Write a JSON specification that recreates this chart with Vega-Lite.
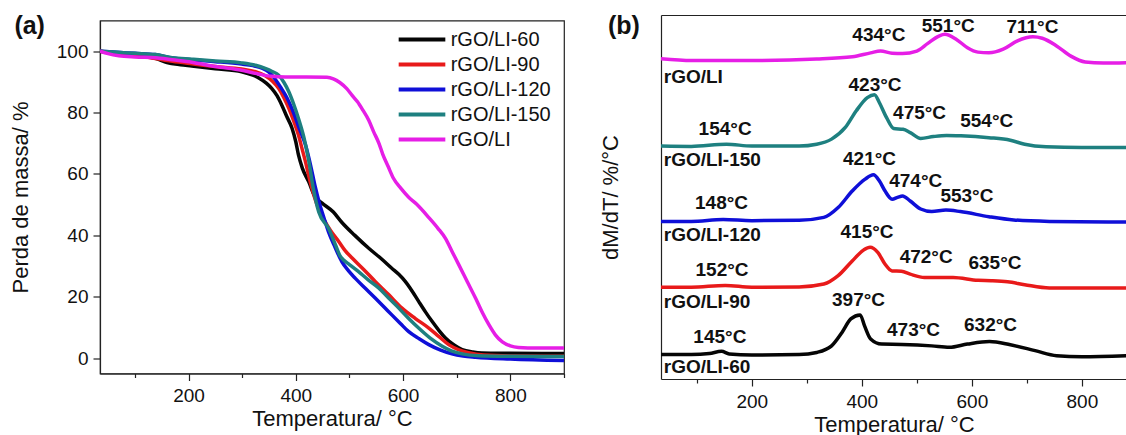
{
  "$schema": "https://vega.github.io/schema/vega-lite/v6.json",
  "background": "white",
  "padding": {"left": 8, "top": 13, "right": 0, "bottom": 0},
  "config": {
    "font": "Arial",
    "view": {"stroke": null},
    "axis": {
      "grid": false,
      "domainColor": "#222222",
      "domainWidth": 1.2,
      "tickColor": "#222222",
      "tickWidth": 1.2,
      "labelColor": "#111111",
      "titleColor": "#111111",
      "labelFont": "Arial",
      "titleFont": "Arial",
      "labelFontSize": 19,
      "titleFontSize": 22,
      "titleFontWeight": "normal"
    },
    "legend": {"labelFont": "Arial", "labelColor": "#111111"}
  },
  "datasets": {
    "tga": [
      {"s": "rGO/LI-60", "T": 35, "m": 100}, {"s": "rGO/LI-60", "T": 60, "m": 99.3}, {"s": "rGO/LI-60", "T": 90, "m": 98.8}, {"s": "rGO/LI-60", "T": 120, "m": 98.3},
      {"s": "rGO/LI-60", "T": 140, "m": 97.6}, {"s": "rGO/LI-60", "T": 160, "m": 96.3}, {"s": "rGO/LI-60", "T": 185, "m": 95.6}, {"s": "rGO/LI-60", "T": 206, "m": 95.2},
      {"s": "rGO/LI-60", "T": 250, "m": 94.3}, {"s": "rGO/LI-60", "T": 299, "m": 93.3}, {"s": "rGO/LI-60", "T": 320, "m": 92.2}, {"s": "rGO/LI-60", "T": 331, "m": 91.3},
      {"s": "rGO/LI-60", "T": 345, "m": 89.6}, {"s": "rGO/LI-60", "T": 355, "m": 87.9}, {"s": "rGO/LI-60", "T": 365, "m": 85.5}, {"s": "rGO/LI-60", "T": 374, "m": 82.4},
      {"s": "rGO/LI-60", "T": 383, "m": 78.8}, {"s": "rGO/LI-60", "T": 393, "m": 74.9}, {"s": "rGO/LI-60", "T": 400, "m": 70.5}, {"s": "rGO/LI-60", "T": 405, "m": 66.2},
      {"s": "rGO/LI-60", "T": 412, "m": 62}, {"s": "rGO/LI-60", "T": 424, "m": 57.5}, {"s": "rGO/LI-60", "T": 436, "m": 52.5}, {"s": "rGO/LI-60", "T": 449, "m": 50.5},
      {"s": "rGO/LI-60", "T": 470, "m": 47.6}, {"s": "rGO/LI-60", "T": 486, "m": 44.2}, {"s": "rGO/LI-60", "T": 510, "m": 40}, {"s": "rGO/LI-60", "T": 536, "m": 35.8},
      {"s": "rGO/LI-60", "T": 560, "m": 32.3}, {"s": "rGO/LI-60", "T": 579, "m": 29.3}, {"s": "rGO/LI-60", "T": 592, "m": 27.3}, {"s": "rGO/LI-60", "T": 604, "m": 25},
      {"s": "rGO/LI-60", "T": 617, "m": 21.8}, {"s": "rGO/LI-60", "T": 629, "m": 18.5}, {"s": "rGO/LI-60", "T": 642, "m": 15}, {"s": "rGO/LI-60", "T": 654, "m": 12},
      {"s": "rGO/LI-60", "T": 667, "m": 9}, {"s": "rGO/LI-60", "T": 679, "m": 6.6}, {"s": "rGO/LI-60", "T": 695, "m": 4.3}, {"s": "rGO/LI-60", "T": 710, "m": 2.8},
      {"s": "rGO/LI-60", "T": 730, "m": 2}, {"s": "rGO/LI-60", "T": 747, "m": 1.7}, {"s": "rGO/LI-60", "T": 800, "m": 1.6}, {"s": "rGO/LI-60", "T": 900, "m": 1.5},

      {"s": "rGO/LI-90", "T": 35, "m": 100}, {"s": "rGO/LI-90", "T": 60, "m": 99.5}, {"s": "rGO/LI-90", "T": 100, "m": 98.8}, {"s": "rGO/LI-90", "T": 138, "m": 97.6},
      {"s": "rGO/LI-90", "T": 170, "m": 96.7}, {"s": "rGO/LI-90", "T": 206, "m": 95.9}, {"s": "rGO/LI-90", "T": 250, "m": 95}, {"s": "rGO/LI-90", "T": 299, "m": 94.2},
      {"s": "rGO/LI-90", "T": 325, "m": 93.3}, {"s": "rGO/LI-90", "T": 343, "m": 92}, {"s": "rGO/LI-90", "T": 356, "m": 90.3}, {"s": "rGO/LI-90", "T": 368, "m": 87.9},
      {"s": "rGO/LI-90", "T": 378, "m": 84.8}, {"s": "rGO/LI-90", "T": 387, "m": 81.4}, {"s": "rGO/LI-90", "T": 396, "m": 77.3}, {"s": "rGO/LI-90", "T": 405, "m": 72.7},
      {"s": "rGO/LI-90", "T": 412, "m": 68}, {"s": "rGO/LI-90", "T": 418, "m": 64}, {"s": "rGO/LI-90", "T": 424, "m": 59.5}, {"s": "rGO/LI-90", "T": 430, "m": 55.4},
      {"s": "rGO/LI-90", "T": 436, "m": 51.8}, {"s": "rGO/LI-90", "T": 443, "m": 48.5}, {"s": "rGO/LI-90", "T": 452, "m": 45.3}, {"s": "rGO/LI-90", "T": 465, "m": 41.5},
      {"s": "rGO/LI-90", "T": 480, "m": 38}, {"s": "rGO/LI-90", "T": 492, "m": 35}, {"s": "rGO/LI-90", "T": 505, "m": 32.6}, {"s": "rGO/LI-90", "T": 527, "m": 28.8},
      {"s": "rGO/LI-90", "T": 548, "m": 25}, {"s": "rGO/LI-90", "T": 573, "m": 20.7}, {"s": "rGO/LI-90", "T": 598, "m": 16.3}, {"s": "rGO/LI-90", "T": 623, "m": 12.9},
      {"s": "rGO/LI-90", "T": 648, "m": 9.8}, {"s": "rGO/LI-90", "T": 667, "m": 7}, {"s": "rGO/LI-90", "T": 685, "m": 4.4}, {"s": "rGO/LI-90", "T": 703, "m": 2.8},
      {"s": "rGO/LI-90", "T": 722, "m": 1.8}, {"s": "rGO/LI-90", "T": 750, "m": 1}, {"s": "rGO/LI-90", "T": 800, "m": 0.7}, {"s": "rGO/LI-90", "T": 900, "m": 0.6},

      {"s": "rGO/LI-120", "T": 35, "m": 100}, {"s": "rGO/LI-120", "T": 60, "m": 99.7}, {"s": "rGO/LI-120", "T": 100, "m": 99.3}, {"s": "rGO/LI-120", "T": 138, "m": 98.9},
      {"s": "rGO/LI-120", "T": 170, "m": 97.8}, {"s": "rGO/LI-120", "T": 206, "m": 97.2}, {"s": "rGO/LI-120", "T": 250, "m": 96.6}, {"s": "rGO/LI-120", "T": 299, "m": 95.8},
      {"s": "rGO/LI-120", "T": 320, "m": 95.3}, {"s": "rGO/LI-120", "T": 337, "m": 94.5}, {"s": "rGO/LI-120", "T": 350, "m": 93.2}, {"s": "rGO/LI-120", "T": 362, "m": 90.8},
      {"s": "rGO/LI-120", "T": 372, "m": 88.2}, {"s": "rGO/LI-120", "T": 383, "m": 85}, {"s": "rGO/LI-120", "T": 393, "m": 81.2}, {"s": "rGO/LI-120", "T": 405, "m": 75.5},
      {"s": "rGO/LI-120", "T": 418, "m": 69.5}, {"s": "rGO/LI-120", "T": 428, "m": 62.5}, {"s": "rGO/LI-120", "T": 436, "m": 56}, {"s": "rGO/LI-120", "T": 444, "m": 50.5},
      {"s": "rGO/LI-120", "T": 452, "m": 46}, {"s": "rGO/LI-120", "T": 461, "m": 41.1}, {"s": "rGO/LI-120", "T": 473, "m": 36.2}, {"s": "rGO/LI-120", "T": 486, "m": 31.4},
      {"s": "rGO/LI-120", "T": 498, "m": 28.5}, {"s": "rGO/LI-120", "T": 511, "m": 26}, {"s": "rGO/LI-120", "T": 530, "m": 22.7}, {"s": "rGO/LI-120", "T": 548, "m": 19.6},
      {"s": "rGO/LI-120", "T": 565, "m": 16.6}, {"s": "rGO/LI-120", "T": 579, "m": 14.1}, {"s": "rGO/LI-120", "T": 595, "m": 11.3}, {"s": "rGO/LI-120", "T": 610, "m": 8.7},
      {"s": "rGO/LI-120", "T": 630, "m": 6.3}, {"s": "rGO/LI-120", "T": 648, "m": 4.4}, {"s": "rGO/LI-120", "T": 670, "m": 2.6}, {"s": "rGO/LI-120", "T": 691, "m": 1.4},
      {"s": "rGO/LI-120", "T": 712, "m": 0.7}, {"s": "rGO/LI-120", "T": 735, "m": 0.3}, {"s": "rGO/LI-120", "T": 800, "m": -0.3}, {"s": "rGO/LI-120", "T": 900, "m": -0.8},

      {"s": "rGO/LI-150", "T": 35, "m": 100}, {"s": "rGO/LI-150", "T": 60, "m": 99.7}, {"s": "rGO/LI-150", "T": 100, "m": 99.3}, {"s": "rGO/LI-150", "T": 138, "m": 98.9},
      {"s": "rGO/LI-150", "T": 170, "m": 97.9}, {"s": "rGO/LI-150", "T": 206, "m": 97.4}, {"s": "rGO/LI-150", "T": 250, "m": 96.8}, {"s": "rGO/LI-150", "T": 299, "m": 96.2},
      {"s": "rGO/LI-150", "T": 325, "m": 95.4}, {"s": "rGO/LI-150", "T": 343, "m": 94.4}, {"s": "rGO/LI-150", "T": 356, "m": 93.4}, {"s": "rGO/LI-150", "T": 368, "m": 92.2},
      {"s": "rGO/LI-150", "T": 378, "m": 89.8}, {"s": "rGO/LI-150", "T": 387, "m": 86.8}, {"s": "rGO/LI-150", "T": 396, "m": 82.8}, {"s": "rGO/LI-150", "T": 405, "m": 78.1},
      {"s": "rGO/LI-150", "T": 415, "m": 72}, {"s": "rGO/LI-150", "T": 424, "m": 64.5}, {"s": "rGO/LI-150", "T": 433, "m": 55}, {"s": "rGO/LI-150", "T": 443, "m": 47.5},
      {"s": "rGO/LI-150", "T": 461, "m": 42.3}, {"s": "rGO/LI-150", "T": 474, "m": 36.9}, {"s": "rGO/LI-150", "T": 482, "m": 33.5}, {"s": "rGO/LI-150", "T": 489, "m": 32},
      {"s": "rGO/LI-150", "T": 500, "m": 30.5}, {"s": "rGO/LI-150", "T": 517, "m": 28.2}, {"s": "rGO/LI-150", "T": 535, "m": 25.5}, {"s": "rGO/LI-150", "T": 555, "m": 22.8},
      {"s": "rGO/LI-150", "T": 573, "m": 19.6}, {"s": "rGO/LI-150", "T": 592, "m": 16.3}, {"s": "rGO/LI-150", "T": 610, "m": 13}, {"s": "rGO/LI-150", "T": 629, "m": 9.8},
      {"s": "rGO/LI-150", "T": 650, "m": 6.6}, {"s": "rGO/LI-150", "T": 673, "m": 3.9}, {"s": "rGO/LI-150", "T": 690, "m": 2.4}, {"s": "rGO/LI-150", "T": 710, "m": 1.4},
      {"s": "rGO/LI-150", "T": 740, "m": 0.8}, {"s": "rGO/LI-150", "T": 800, "m": 0.6}, {"s": "rGO/LI-150", "T": 900, "m": 0.5},

      {"s": "rGO/LI", "T": 35, "m": 100}, {"s": "rGO/LI", "T": 50, "m": 99.2}, {"s": "rGO/LI", "T": 70, "m": 98.5}, {"s": "rGO/LI", "T": 100, "m": 98.1},
      {"s": "rGO/LI", "T": 138, "m": 97.9}, {"s": "rGO/LI", "T": 170, "m": 97.2}, {"s": "rGO/LI", "T": 206, "m": 96.4}, {"s": "rGO/LI", "T": 250, "m": 95},
      {"s": "rGO/LI", "T": 299, "m": 93.8}, {"s": "rGO/LI", "T": 330, "m": 92.6}, {"s": "rGO/LI", "T": 355, "m": 91.8}, {"s": "rGO/LI", "T": 380, "m": 91.6},
      {"s": "rGO/LI", "T": 420, "m": 91.6}, {"s": "rGO/LI", "T": 458, "m": 91.5}, {"s": "rGO/LI", "T": 470, "m": 91}, {"s": "rGO/LI", "T": 482, "m": 89.8},
      {"s": "rGO/LI", "T": 495, "m": 87.8}, {"s": "rGO/LI", "T": 505, "m": 85.6}, {"s": "rGO/LI", "T": 515, "m": 83.5}, {"s": "rGO/LI", "T": 525, "m": 80.8},
      {"s": "rGO/LI", "T": 536, "m": 77.5}, {"s": "rGO/LI", "T": 545, "m": 73.8}, {"s": "rGO/LI", "T": 555, "m": 70}, {"s": "rGO/LI", "T": 562, "m": 66.5},
      {"s": "rGO/LI", "T": 572, "m": 62.5}, {"s": "rGO/LI", "T": 582, "m": 58.6}, {"s": "rGO/LI", "T": 596, "m": 55.3}, {"s": "rGO/LI", "T": 610, "m": 52.5},
      {"s": "rGO/LI", "T": 625, "m": 50.2}, {"s": "rGO/LI", "T": 648, "m": 45.8}, {"s": "rGO/LI", "T": 665, "m": 42.3}, {"s": "rGO/LI", "T": 679, "m": 39},
      {"s": "rGO/LI", "T": 692, "m": 34.5}, {"s": "rGO/LI", "T": 704, "m": 30.4}, {"s": "rGO/LI", "T": 720, "m": 24.8}, {"s": "rGO/LI", "T": 735, "m": 19.6},
      {"s": "rGO/LI", "T": 748, "m": 14.8}, {"s": "rGO/LI", "T": 760, "m": 10.9}, {"s": "rGO/LI", "T": 772, "m": 7.6}, {"s": "rGO/LI", "T": 785, "m": 5.3},
      {"s": "rGO/LI", "T": 800, "m": 4}, {"s": "rGO/LI", "T": 815, "m": 3.5}, {"s": "rGO/LI", "T": 850, "m": 3.3}, {"s": "rGO/LI", "T": 900, "m": 3.3}
    ],
    "dtg": [
      {"s": "rGO/LI-60", "T": 35, "d": 6.7}, {"s": "rGO/LI-60", "T": 90, "d": 6.7}, {"s": "rGO/LI-60", "T": 123, "d": 7}, {"s": "rGO/LI-60", "T": 145, "d": 7.6},
      {"s": "rGO/LI-60", "T": 159, "d": 6.9}, {"s": "rGO/LI-60", "T": 200, "d": 6.6}, {"s": "rGO/LI-60", "T": 286, "d": 6.7}, {"s": "rGO/LI-60", "T": 318, "d": 7.3},
      {"s": "rGO/LI-60", "T": 345, "d": 9.1}, {"s": "rGO/LI-60", "T": 364, "d": 12.8}, {"s": "rGO/LI-60", "T": 380, "d": 16.5}, {"s": "rGO/LI-60", "T": 397, "d": 17.6},
      {"s": "rGO/LI-60", "T": 405, "d": 14.6}, {"s": "rGO/LI-60", "T": 416, "d": 11}, {"s": "rGO/LI-60", "T": 436, "d": 9.6}, {"s": "rGO/LI-60", "T": 473, "d": 9.5},
      {"s": "rGO/LI-60", "T": 527, "d": 9.1}, {"s": "rGO/LI-60", "T": 559, "d": 8.7}, {"s": "rGO/LI-60", "T": 592, "d": 9.6}, {"s": "rGO/LI-60", "T": 632, "d": 10.3},
      {"s": "rGO/LI-60", "T": 670, "d": 9.4}, {"s": "rGO/LI-60", "T": 715, "d": 7.8}, {"s": "rGO/LI-60", "T": 754, "d": 6.4}, {"s": "rGO/LI-60", "T": 800, "d": 6.1},
      {"s": "rGO/LI-60", "T": 883, "d": 6.4},

      {"s": "rGO/LI-90", "T": 35, "d": 25.2}, {"s": "rGO/LI-90", "T": 90, "d": 25.2}, {"s": "rGO/LI-90", "T": 152, "d": 25.7}, {"s": "rGO/LI-90", "T": 200, "d": 25.2},
      {"s": "rGO/LI-90", "T": 286, "d": 25.3}, {"s": "rGO/LI-90", "T": 331, "d": 26.1}, {"s": "rGO/LI-90", "T": 357, "d": 28.4}, {"s": "rGO/LI-90", "T": 383, "d": 32.5},
      {"s": "rGO/LI-90", "T": 403, "d": 35.4}, {"s": "rGO/LI-90", "T": 415, "d": 36.2}, {"s": "rGO/LI-90", "T": 429, "d": 34.8}, {"s": "rGO/LI-90", "T": 442, "d": 31.6},
      {"s": "rGO/LI-90", "T": 455, "d": 29.7}, {"s": "rGO/LI-90", "T": 472, "d": 29.6}, {"s": "rGO/LI-90", "T": 488, "d": 28.8}, {"s": "rGO/LI-90", "T": 514, "d": 27.9},
      {"s": "rGO/LI-90", "T": 566, "d": 27.9}, {"s": "rGO/LI-90", "T": 611, "d": 27.1}, {"s": "rGO/LI-90", "T": 635, "d": 27}, {"s": "rGO/LI-90", "T": 665, "d": 26.7},
      {"s": "rGO/LI-90", "T": 696, "d": 25.9}, {"s": "rGO/LI-90", "T": 741, "d": 25}, {"s": "rGO/LI-90", "T": 883, "d": 25},

      {"s": "rGO/LI-120", "T": 35, "d": 43.3}, {"s": "rGO/LI-120", "T": 90, "d": 43.3}, {"s": "rGO/LI-120", "T": 148, "d": 43.8}, {"s": "rGO/LI-120", "T": 200, "d": 43.5},
      {"s": "rGO/LI-120", "T": 286, "d": 43.6}, {"s": "rGO/LI-120", "T": 331, "d": 44.4}, {"s": "rGO/LI-120", "T": 357, "d": 47.1}, {"s": "rGO/LI-120", "T": 383, "d": 51.7},
      {"s": "rGO/LI-120", "T": 406, "d": 54.9}, {"s": "rGO/LI-120", "T": 421, "d": 56.1}, {"s": "rGO/LI-120", "T": 432, "d": 54.4}, {"s": "rGO/LI-120", "T": 442, "d": 51.7},
      {"s": "rGO/LI-120", "T": 455, "d": 49.4}, {"s": "rGO/LI-120", "T": 465, "d": 49.9}, {"s": "rGO/LI-120", "T": 474, "d": 50.3}, {"s": "rGO/LI-120", "T": 488, "d": 48.9},
      {"s": "rGO/LI-120", "T": 507, "d": 46.7}, {"s": "rGO/LI-120", "T": 527, "d": 46}, {"s": "rGO/LI-120", "T": 553, "d": 46.4}, {"s": "rGO/LI-120", "T": 579, "d": 46},
      {"s": "rGO/LI-120", "T": 631, "d": 44.6}, {"s": "rGO/LI-120", "T": 676, "d": 43.7}, {"s": "rGO/LI-120", "T": 741, "d": 43.3}, {"s": "rGO/LI-120", "T": 883, "d": 43.1},

      {"s": "rGO/LI-150", "T": 35, "d": 64}, {"s": "rGO/LI-150", "T": 90, "d": 63.9}, {"s": "rGO/LI-150", "T": 154, "d": 64.5}, {"s": "rGO/LI-150", "T": 200, "d": 64},
      {"s": "rGO/LI-150", "T": 286, "d": 64}, {"s": "rGO/LI-150", "T": 318, "d": 64.5}, {"s": "rGO/LI-150", "T": 345, "d": 65.9}, {"s": "rGO/LI-150", "T": 370, "d": 69.1},
      {"s": "rGO/LI-150", "T": 390, "d": 73.7}, {"s": "rGO/LI-150", "T": 410, "d": 77.3}, {"s": "rGO/LI-150", "T": 423, "d": 78.1}, {"s": "rGO/LI-150", "T": 432, "d": 75.9},
      {"s": "rGO/LI-150", "T": 445, "d": 71.8}, {"s": "rGO/LI-150", "T": 458, "d": 68.8}, {"s": "rGO/LI-150", "T": 475, "d": 68.6}, {"s": "rGO/LI-150", "T": 488, "d": 67.7},
      {"s": "rGO/LI-150", "T": 507, "d": 66.1}, {"s": "rGO/LI-150", "T": 530, "d": 66.6}, {"s": "rGO/LI-150", "T": 554, "d": 66.9}, {"s": "rGO/LI-150", "T": 580, "d": 66.8},
      {"s": "rGO/LI-150", "T": 631, "d": 66.3}, {"s": "rGO/LI-150", "T": 670, "d": 65.6}, {"s": "rGO/LI-150", "T": 696, "d": 64.5}, {"s": "rGO/LI-150", "T": 735, "d": 63.8},
      {"s": "rGO/LI-150", "T": 800, "d": 63.6}, {"s": "rGO/LI-150", "T": 883, "d": 63.6},

      {"s": "rGO/LI", "T": 35, "d": 88}, {"s": "rGO/LI", "T": 91, "d": 87.5}, {"s": "rGO/LI", "T": 188, "d": 87.5}, {"s": "rGO/LI", "T": 318, "d": 87.9},
      {"s": "rGO/LI", "T": 383, "d": 88.5}, {"s": "rGO/LI", "T": 416, "d": 89.6}, {"s": "rGO/LI", "T": 434, "d": 90.1}, {"s": "rGO/LI", "T": 455, "d": 89.5},
      {"s": "rGO/LI", "T": 474, "d": 89.4}, {"s": "rGO/LI", "T": 500, "d": 90.1}, {"s": "rGO/LI", "T": 520, "d": 92.2}, {"s": "rGO/LI", "T": 540, "d": 94.2},
      {"s": "rGO/LI", "T": 551, "d": 94.7}, {"s": "rGO/LI", "T": 572, "d": 93.3}, {"s": "rGO/LI", "T": 592, "d": 91}, {"s": "rGO/LI", "T": 611, "d": 89.8},
      {"s": "rGO/LI", "T": 631, "d": 89.6}, {"s": "rGO/LI", "T": 657, "d": 90.6}, {"s": "rGO/LI", "T": 683, "d": 92.9}, {"s": "rGO/LI", "T": 711, "d": 94},
      {"s": "rGO/LI", "T": 728, "d": 93.6}, {"s": "rGO/LI", "T": 754, "d": 91.5}, {"s": "rGO/LI", "T": 780, "d": 88.7}, {"s": "rGO/LI", "T": 806, "d": 87.1},
      {"s": "rGO/LI", "T": 839, "d": 86.8}, {"s": "rGO/LI", "T": 883, "d": 86.9}
    ],
    "picos": [
      {"rotulo": "434°C", "tx": 431, "ty": 92.9}, {"rotulo": "551°C", "tx": 557, "ty": 95.2}, {"rotulo": "711°C", "tx": 710, "ty": 95.0},
      {"rotulo": "423°C", "tx": 424, "ty": 79.2}, {"rotulo": "475°C", "tx": 505, "ty": 71.4}, {"rotulo": "554°C", "tx": 627, "ty": 69.3}, {"rotulo": "154°C", "tx": 151.5, "ty": 67.1},
      {"rotulo": "421°C", "tx": 414, "ty": 58.7}, {"rotulo": "474°C", "tx": 498, "ty": 52.7}, {"rotulo": "553°C", "tx": 591, "ty": 48.7}, {"rotulo": "148°C", "tx": 145, "ty": 46.8},
      {"rotulo": "415°C", "tx": 409.5, "ty": 38.6}, {"rotulo": "472°C", "tx": 517, "ty": 32.0}, {"rotulo": "635°C", "tx": 642, "ty": 30.2}, {"rotulo": "152°C", "tx": 146, "ty": 28.3},
      {"rotulo": "397°C", "tx": 394, "ty": 20.0}, {"rotulo": "473°C", "tx": 494, "ty": 11.8}, {"rotulo": "632°C", "tx": 634, "ty": 13.1}, {"rotulo": "145°C", "tx": 142, "ty": 10.0}
    ],
    "nomes": [
      {"rotulo": "rGO/LI", "tx": 40, "ty": 81.3},
      {"rotulo": "rGO/LI-150", "tx": 40, "ty": 58.6},
      {"rotulo": "rGO/LI-120", "tx": 40, "ty": 37.8},
      {"rotulo": "rGO/LI-90", "tx": 40, "ty": 19.6},
      {"rotulo": "rGO/LI-60", "tx": 40, "ty": 1.7}
    ]
  },
  "bounds": "flush",
  "center": true,
  "spacing": 97,
  "resolve": {"scale": {"color": "independent"}},
  "hconcat": [
    {
      "width": 464,
      "height": 353,
      "view": {"stroke": "#222222", "strokeWidth": 1.2},
      "layer": [
        {
          "data": {"name": "tga"},
          "mark": {"type": "line", "strokeWidth": 3.5, "interpolate": "monotone", "clip": true},
          "encoding": {
            "x": {
              "field": "T", "type": "quantitative",
              "scale": {"domain": [35, 900], "nice": false, "zero": false},
              "axis": {
                "title": "Temperatura/ °C",
                "values": [100, 200, 300, 400, 500, 600, 700, 800, 900],
                "labelExpr": "datum.value % 200 === 0 ? datum.label : ''",
                "tickSize": {"condition": {"test": "datum.value % 200 !== 0", "value": 4}, "value": 7},
                "labelPadding": 6, "titlePadding": 3, "labelFlush": false
              }
            },
            "y": {
              "field": "m", "type": "quantitative",
              "scale": {"domain": [-5, 110], "nice": false, "zero": false},
              "axis": {
                "title": "Perda de massa/ %",
                "values": [0, 10, 20, 30, 40, 50, 60, 70, 80, 90, 100],
                "labelExpr": "datum.value % 20 === 0 ? datum.label : ''",
                "tickSize": {"condition": {"test": "datum.value % 20 !== 0", "value": 4}, "value": 7},
                "labelPadding": 5, "titlePadding": 24, "labelFlush": false
              }
            },
            "color": {
              "field": "s", "type": "nominal",
              "scale": {
                "domain": ["rGO/LI-60", "rGO/LI-90", "rGO/LI-120", "rGO/LI-150", "rGO/LI"],
                "range": ["#050505", "#e81a1a", "#0f0fd8", "#1e8080", "#e61ee6"]
              },
              "legend": {
                "title": null, "orient": "none", "legendX": 312, "legendY": 9, "padding": 0,
                "symbolType": "M-4,0H4", "symbolSize": 136, "symbolStrokeWidth": 4,
                "labelFontSize": 20, "labelOffset": 18.7, "rowPadding": 5
              }
            }
          }
        },
        {
          "data": {"values": [{"painel": "(a)"}]},
          "mark": {"type": "text", "font": "Arial", "fontSize": 25, "fontWeight": "bold", "color": "#111111", "align": "left", "baseline": "alphabetic"},
          "encoding": {
            "x": {"datum": -124.6, "type": "quantitative"},
            "y": {"datum": 105.5, "type": "quantitative"},
            "text": {"field": "painel"}
          }
        }
      ]
    },
    {
      "width": 466,
      "height": 364,
      "resolve": {"axis": {"x": "independent"}},
      "layer": [
        {
          "data": {"name": "dtg"},
          "mark": {"type": "line", "strokeWidth": 3.5, "interpolate": "monotone", "clip": true},
          "encoding": {
            "x": {
              "field": "T", "type": "quantitative",
              "scale": {"domain": [35, 882], "nice": false, "zero": false},
              "axis": {
                "title": "Temperatura/ °C",
                "values": [100, 200, 300, 400, 500, 600, 700, 800],
                "labelExpr": "datum.value % 200 === 0 ? datum.label : ''",
                "tickSize": {"condition": {"test": "datum.value % 200 !== 0", "value": 4}, "value": 7},
                "labelPadding": 6, "titlePadding": 3, "labelFlush": false
              }
            },
            "y": {
              "field": "d", "type": "quantitative",
              "scale": {"domain": [0, 100], "nice": false, "zero": false},
              "axis": {"title": "dM/dT/ %/°C", "labels": false, "ticks": false, "domain": true, "titlePadding": 39}
            },
            "color": {
              "field": "s", "type": "nominal",
              "scale": {
                "domain": ["rGO/LI-60", "rGO/LI-90", "rGO/LI-120", "rGO/LI-150", "rGO/LI"],
                "range": ["#050505", "#e81a1a", "#0f0fd8", "#1e8080", "#e61ee6"]
              },
              "legend": null
            }
          }
        },
        {
          "data": {"name": "dtg"},
          "mark": {"type": "line", "opacity": 0},
          "encoding": {
            "x": {
              "field": "T", "type": "quantitative",
              "axis": {"orient": "top", "labels": false, "ticks": false, "title": null, "domain": true}
            },
            "y": {"field": "d", "type": "quantitative"}
          }
        },
        {
          "data": {"name": "picos"},
          "mark": {"type": "text", "font": "Arial", "fontSize": 19, "fontWeight": "bold", "color": "#111111", "align": "center", "baseline": "alphabetic"},
          "encoding": {
            "x": {"field": "tx", "type": "quantitative", "axis": null},
            "y": {"field": "ty", "type": "quantitative"},
            "text": {"field": "rotulo"}
          }
        },
        {
          "data": {"name": "nomes"},
          "mark": {"type": "text", "font": "Arial", "fontSize": 19, "fontWeight": "bold", "color": "#111111", "align": "left", "baseline": "alphabetic"},
          "encoding": {
            "x": {"field": "tx", "type": "quantitative", "axis": null},
            "y": {"field": "ty", "type": "quantitative"},
            "text": {"field": "rotulo"}
          }
        },
        {
          "data": {"values": [{"painel": "(b)"}]},
          "mark": {"type": "text", "font": "Arial", "fontSize": 25, "fontWeight": "bold", "color": "#111111", "align": "left", "baseline": "alphabetic"},
          "encoding": {
            "x": {"datum": -61.3, "type": "quantitative", "axis": null},
            "y": {"datum": 94.7, "type": "quantitative"},
            "text": {"field": "painel"}
          }
        }
      ]
    }
  ]
}
